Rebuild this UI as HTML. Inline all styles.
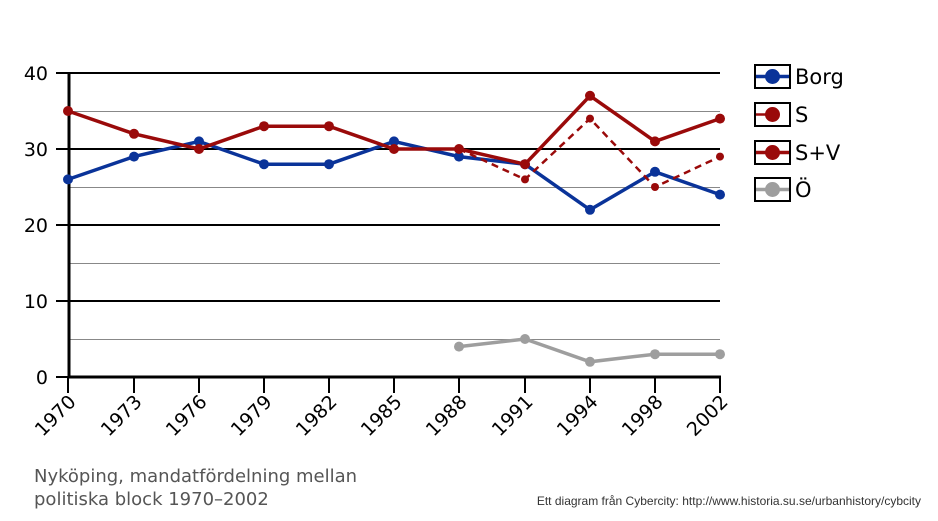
<!DOCTYPE html>
<html><head><meta charset="utf-8"><style>body{margin:0;background:#fff}svg{display:block}text{font-family:"DejaVu Sans","Liberation Sans",sans-serif}</style></head><body>
<svg width="938" height="521" viewBox="0 0 938 521" xmlns="http://www.w3.org/2000/svg">
<g stroke="#888" stroke-width="1">
<line x1="68" y1="111.5" x2="720" y2="111.5"/><line x1="68" y1="187.5" x2="720" y2="187.5"/><line x1="68" y1="263.5" x2="720" y2="263.5"/><line x1="68" y1="339.5" x2="720" y2="339.5"/>
</g>
<g stroke="#000" stroke-width="2">
<line x1="68" y1="73" x2="720" y2="73"/><line x1="68" y1="149" x2="720" y2="149"/><line x1="68" y1="225" x2="720" y2="225"/><line x1="68" y1="301" x2="720" y2="301"/>
<line x1="56" y1="73" x2="68" y2="73"/><line x1="56" y1="149" x2="68" y2="149"/><line x1="56" y1="225" x2="68" y2="225"/><line x1="56" y1="301" x2="68" y2="301"/><line x1="56" y1="377" x2="68" y2="377"/>
</g>
<line x1="69" y1="73" x2="69" y2="377" stroke="#000" stroke-width="3"/>
<line x1="68" y1="377" x2="721" y2="377" stroke="#000" stroke-width="3"/>
<g stroke="#000" stroke-width="2">
<line x1="68" y1="377" x2="68" y2="393"/><line x1="134" y1="377" x2="134" y2="393"/><line x1="199" y1="377" x2="199" y2="393"/><line x1="264" y1="377" x2="264" y2="393"/><line x1="329" y1="377" x2="329" y2="393"/><line x1="394" y1="377" x2="394" y2="393"/><line x1="459" y1="377" x2="459" y2="393"/><line x1="525" y1="377" x2="525" y2="393"/><line x1="590" y1="377" x2="590" y2="393"/><line x1="655" y1="377" x2="655" y2="393"/><line x1="720" y1="377" x2="720" y2="393"/>
</g>
<g font-size="19" text-anchor="end" fill="#000">
<text x="48" y="80">40</text><text x="48" y="156">30</text><text x="48" y="232">20</text><text x="48" y="308">10</text><text x="48" y="384">0</text>
</g>
<g font-size="19" text-anchor="end" fill="#000">
<text transform="translate(77,403) rotate(-45)">1970</text>
<text transform="translate(143,403) rotate(-45)">1973</text>
<text transform="translate(208,403) rotate(-45)">1976</text>
<text transform="translate(273,403) rotate(-45)">1979</text>
<text transform="translate(338,403) rotate(-45)">1982</text>
<text transform="translate(403,403) rotate(-45)">1985</text>
<text transform="translate(468,403) rotate(-45)">1988</text>
<text transform="translate(534,403) rotate(-45)">1991</text>
<text transform="translate(599,403) rotate(-45)">1994</text>
<text transform="translate(664,403) rotate(-45)">1998</text>
<text transform="translate(729,403) rotate(-45)">2002</text>
</g>
<polyline fill="none" stroke="#0a3399" stroke-width="3.5" points="68,179.4 134,156.6 199,141.4 264,164.2 329,164.2 394,141.4 459,156.6 525,164.2 590,209.8 655,171.8 720,194.6"/>
<g fill="#0a3399"><circle cx="68" cy="179.4" r="5"/><circle cx="134" cy="156.6" r="5"/><circle cx="199" cy="141.4" r="5"/><circle cx="264" cy="164.2" r="5"/><circle cx="329" cy="164.2" r="5"/><circle cx="394" cy="141.4" r="5"/><circle cx="459" cy="156.6" r="5"/><circle cx="525" cy="164.2" r="5"/><circle cx="590" cy="209.8" r="5"/><circle cx="655" cy="171.8" r="5"/><circle cx="720" cy="194.6" r="5"/></g>
<polyline fill="none" stroke="#9a0a0a" stroke-width="2.5" stroke-dasharray="7,5" points="459,149 525,179.4 590,118.6 655,187 720,156.6"/>
<g fill="#9a0a0a"><circle cx="525" cy="179.4" r="4"/><circle cx="590" cy="118.6" r="4"/><circle cx="655" cy="187" r="4"/><circle cx="720" cy="156.6" r="4"/></g>
<polyline fill="none" stroke="#9a0a0a" stroke-width="3.5" points="68,111 134,133.8 199,149 264,126.2 329,126.2 394,149 459,149 525,164.2 590,95.8 655,141.4 720,118.6"/>
<g fill="#9a0a0a"><circle cx="68" cy="111" r="5"/><circle cx="134" cy="133.8" r="5"/><circle cx="199" cy="149" r="5"/><circle cx="264" cy="126.2" r="5"/><circle cx="329" cy="126.2" r="5"/><circle cx="394" cy="149" r="5"/><circle cx="459" cy="149" r="5"/><circle cx="525" cy="164.2" r="5"/><circle cx="590" cy="95.8" r="5"/><circle cx="655" cy="141.4" r="5"/><circle cx="720" cy="118.6" r="5"/></g>
<polyline fill="none" stroke="#9e9e9e" stroke-width="3.5" points="459,346.6 525,339 590,361.8 655,354.2 720,354.2"/>
<g fill="#9e9e9e"><circle cx="459" cy="346.6" r="5"/><circle cx="525" cy="339" r="5"/><circle cx="590" cy="361.8" r="5"/><circle cx="655" cy="354.2" r="5"/><circle cx="720" cy="354.2" r="5"/></g>
<g stroke="#000" stroke-width="2" fill="#fff">
<rect x="755" y="65" width="35" height="23"/><rect x="755" y="103" width="35" height="23"/><rect x="755" y="141" width="35" height="23"/><rect x="755" y="178" width="35" height="23"/>
</g>
<line x1="756" y1="76.5" x2="789" y2="76.5" stroke="#0a3399" stroke-width="3.5"/><circle cx="772.5" cy="76.5" r="7.5" fill="#0a3399"/>
<line x1="756" y1="114.5" x2="770" y2="114.5" stroke="#9a0a0a" stroke-width="2.5"/><circle cx="772.5" cy="114.5" r="7.5" fill="#9a0a0a"/>
<line x1="756" y1="152.5" x2="789" y2="152.5" stroke="#9a0a0a" stroke-width="3.5"/><circle cx="772.5" cy="152.5" r="7.5" fill="#9a0a0a"/>
<line x1="756" y1="189.5" x2="789" y2="189.5" stroke="#9e9e9e" stroke-width="3.5"/><circle cx="772.5" cy="189.5" r="7.5" fill="#9e9e9e"/>
<g font-size="21" fill="#000">
<text x="795" y="84">Borg</text><text x="795" y="122">S</text><text x="795" y="160">S+V</text><text x="795" y="197">Ö</text>
</g>
<g font-size="18" fill="#555">
<text x="34" y="482">Nyköping, mandatfördelning mellan</text>
<text x="34" y="505">politiska block 1970–2002</text>
</g>
<text x="921" y="505" font-size="12" fill="#333" text-anchor="end" style="font-family:'Liberation Sans',sans-serif">Ett diagram från Cybercity: http://www.historia.su.se/urbanhistory/cybcity</text>
</svg>
</body></html>
